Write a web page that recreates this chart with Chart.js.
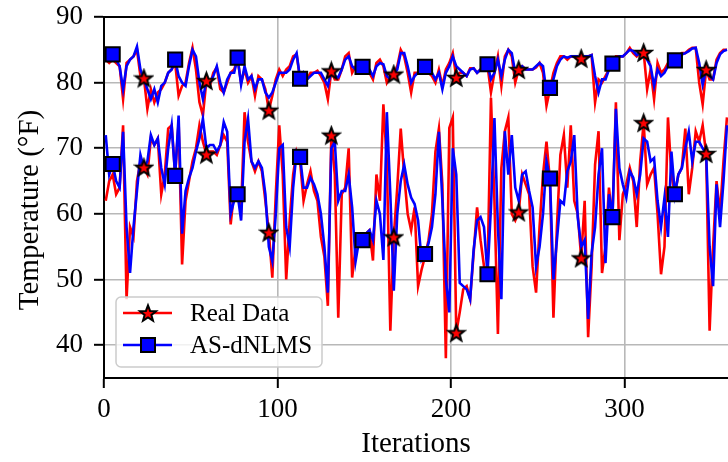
<!DOCTYPE html>
<html>
<head>
<meta charset="utf-8">
<script src="https://cdn.jsdelivr.net/npm/chart.js@4"></script>
<style>
  html, body { margin: 0; padding: 0; background: #fff; overflow: hidden; }
  canvas { display: block; }
</style>
</head>
<body>
<canvas id="chart" width="728" height="462"></canvas>
<script>
// Temperature readings (°F), one value every second iteration (1, 3, 5, ... 359)
const upperReal = [
  83.5,83,83.5,83,82.5,77.5,83,83.5,84,85,
  81,80.7,76,79,77,78.5,79,80,81.5,82,
  83,78,79.5,80,83,85.3,82,77,75,80.3,
  79.5,81.5,82.3,79,78.5,80,81.5,82,83.5,80,
  82,80,81,78,81,80.5,79,75.8,78,80.5,
  82,81,82,82.5,84,84.3,80.5,81,80.5,81.5,
  81.5,81.8,81,80,77.5,81.8,80.5,80.5,82,84,
  84.5,81.5,82.5,83,82.2,82,81.5,80.5,83,83.5,
  82.5,80,81,81.3,82.5,85,84,81.5,78.5,81.5,
  81.5,82,82.2,81.5,81,80,82,79.5,82,83,
  84.5,80.8,81.5,81.5,81,82.2,82.2,81.5,82,82.5,
  82.6,78.5,81.5,84,79.5,84,85,84,80,82,
  82.5,82,82,82,82.3,83,81.5,76.5,79,81.5,
  83,84,84,83.5,84,84,83.5,83.7,84,84,
  84.2,77,80.5,80,81,82,82.7,84,84,84,
  84.5,85.3,84.5,84,84.5,84.6,79,82,77.5,83,
  81.5,82,83,83.5,83.2,84,84.5,84.5,85,85.3,
  85.3,80,76.7,82,80.5,80.5,83.5,84.5,85,85
];
const upperFiltered = [
  84,83.5,84.3,83.5,82.5,79,82.5,83.5,84,85.5,
  82,80.5,79,77.5,79,77,79.5,80,81.5,82,
  83.5,81,80,79.5,82.5,85,84,80,77.5,80.3,
  80,81,82.5,80,78.5,80.5,81.5,81.5,83.8,79.7,
  82.5,80.5,81,79,80.5,80.5,78.5,77.7,78.5,80,
  81.5,81.5,81.5,82,83.5,84.5,80.6,81.5,80.5,81,
  81.5,81.5,81.5,80.5,79.5,81.8,81,80.8,82,83.5,
  84,82.5,82,82.5,82.4,82.5,82,81,82.5,83,
  82.8,81,80.5,81.3,82,84.5,84.5,82.5,80,81,
  81.5,82,82.4,82,81.5,80.5,81.5,79,81.5,82.5,
  84,82.5,82,81.5,81,82,82.2,81.5,82,82.5,
  82.8,80.5,81.5,83.5,81,83.5,85,84.5,81.5,82,
  82.5,82,82,82,82.5,83,82.5,78.5,79.2,80.5,
  82.5,83.5,84,83.8,84,84,84,83.7,84,84,
  84.2,81,78.5,80.5,80.5,82,82.9,83.8,84,84,
  84.5,85,84.8,84.2,84.5,84.6,83.5,82.5,79.5,82,
  81,81.5,82.5,83.5,83.4,83.8,84.3,84.5,84.8,85.2,
  85.3,83,79.7,82,81,80.5,83,84.3,84.8,85
];
const lowerReal = [
  62,65,66,63,64,73.5,47,58,56.5,65,
  68,67.1,66,71.5,70.5,71.5,63,66,73,73.5,
  66,74,52.3,62,65,68,70,73.5,71,69.1,
  69.5,69.5,69,70.5,72,71,58.4,63.5,63,60.5,
  75.5,71,68,66.5,68,66.5,62,57.2,50.3,63,
  73.5,66,50,59,66,69.5,68,62,64.5,66.5,
  63.5,62,56.5,53.5,46,72,66,44.2,63,64,
  70,50.3,55,56,56,57,57.5,52.9,66,62,
  76.7,68,42.2,56.5,64,73,66,60,57.5,61,
  49,51.5,53.5,56,60,69.5,73,64.5,38,73.1,
  74.7,41.9,45,48.5,49,47,54,61,56,52,
  51,77.7,62,41.7,67,72.6,74.7,60,59,60.3,
  66,64.5,63,52,48,58,66,71,65,44.2,
  58,69,72,64,73.5,62,60,53.3,62,41.2,
  52,67.5,72.6,51,55,64,59,77,56,63,
  64.5,67,65,58,68,73.9,64.5,66,67,60,
  50.8,55,74.7,66,63,66,67,73,63,67,
  72.6,71,73.5,69.2,42.2,55,65,60,68,74.7
];
const lowerFiltered = [
  72,66,67.6,65,64,72.5,58,51,58,63.5,
  69,67,68,72,70.5,71.5,67,64.5,70,73.5,
  65.8,75,57,63.5,65.5,67,69.5,71.5,74.5,70,
  70.5,70.5,69.5,70.5,74,72.5,60,62,63,59,
  71,74.5,68,67,68,67,63,55,52.8,60,
  70,70.5,58,55,64,69.5,68.7,64,64,65.5,
  64.5,63,60,55,48,70,71,62,63.5,63.5,
  66,61,52.8,56,56,57,57.5,56,62,60,
  53,75.5,63,48.3,60,65,67.5,64.5,62.5,61.5,
  59,53,53.9,55.5,58,63,72.5,62,50,45,
  70,66,49.5,49,48.5,47,54.5,59,59.5,58,
  50.8,61,74.6,58,47,72.6,66,72,64,62,
  66,66.5,63.5,61,52,55,60,68,65.4,50,
  56,62,61.5,66.5,68,72,59.5,55,56,44,
  54,58,66,70,52.5,63,59.5,76,67,64.5,
  62.5,66.5,65.5,63,66,71.5,71,68,68.5,62,
  58,62.5,56.5,69.5,63,66,67,70,72.5,68,
  71,71,70,69.2,55,49,64.5,58,65,73.5
];
// Iterations that carry a marker
const starIterations = [23,59,95,131,167,203,239,275,311,347];
const squareIterations = [5,41,77,113,149,185,221,257,293,329];
// Axis ticks and text
const xTicks = [0,100,200,300];
const yTicks = [40,50,60,70,80,90];
const seriesNames = ['Real Data','AS-dNLMS'];
const xTitle = 'Iterations';
const yTitle = 'Temperature (°F)';

const RED = '#ff0000';
const BLUE = '#0000ff';
const FONT = '"Liberation Serif", "DejaVu Serif", serif';
const LINE_W = 2.6;

const iterations = upperReal.map((_, i) => 2 * i + 1);
const toPoints = ys => ys.map((y, i) => ({ x: iterations[i], y }));
const pick = (its, ys) => its.map(it => ({ x: it, y: ys[iterations.indexOf(it)] }));

// Filled five-point star with black edge
function drawStar(g, cx, cy, outer) {
  const inner = outer * 0.42;
  g.beginPath();
  for (let k = 0; k < 10; k++) {
    const r = k % 2 === 0 ? outer : inner;
    const a = -Math.PI / 2 + k * Math.PI / 5;
    const px = cx + r * Math.cos(a), py = cy + r * Math.sin(a);
    if (k === 0) g.moveTo(px, py); else g.lineTo(px, py);
  }
  g.closePath();
  g.fillStyle = RED;
  g.fill();
  g.lineWidth = 2;
  g.lineJoin = 'miter';
  g.strokeStyle = '#000';
  g.stroke();
}
function starSprite(outer) {
  const size = Math.ceil(outer * 2 + 4);
  const c = document.createElement('canvas');
  c.width = size; c.height = size;
  drawStar(c.getContext('2d'), size / 2, size / 2 + 0.8, outer);
  return c;
}
const starImg = starSprite(8.5);

function lineSet(label, ys, color) {
  return {
    label, data: toPoints(ys), borderColor: color, backgroundColor: color,
    borderWidth: LINE_W, pointRadius: 0, tension: 0, fill: false
  };
}

const overlay = {
  id: 'overlay',
  afterDraw(chart) {
    const { ctx, chartArea: a } = chart;
    ctx.save();
    // top spine
    ctx.strokeStyle = '#000';
    ctx.lineWidth = 2;
    ctx.beginPath();
    ctx.moveTo(a.left - 1, a.top);
    ctx.lineTo(a.right, a.top);
    ctx.stroke();

    // y-axis title
    ctx.save();
    ctx.font = '29px ' + FONT;
    ctx.fillStyle = '#000';
    ctx.textAlign = 'center';
    ctx.textBaseline = 'middle';
    ctx.translate(30, 210);
    ctx.rotate(-Math.PI / 2);
    ctx.fillText(yTitle, 0, 0);
    ctx.restore();

    // legend
    const bx = 116, by = 297, bw = 206, bh = 70, rr = 5;
    ctx.beginPath();
    ctx.moveTo(bx + rr, by);
    ctx.arcTo(bx + bw, by, bx + bw, by + bh, rr);
    ctx.arcTo(bx + bw, by + bh, bx, by + bh, rr);
    ctx.arcTo(bx, by + bh, bx, by, rr);
    ctx.arcTo(bx, by, bx + bw, by, rr);
    ctx.closePath();
    ctx.fillStyle = 'rgba(255,255,255,0.8)';
    ctx.fill();
    ctx.strokeStyle = '#cccccc';
    ctx.lineWidth = 1.5;
    ctx.stroke();

    const rows = [313, 345];
    const colors = [RED, BLUE];
    rows.forEach((ry, i) => {
      ctx.strokeStyle = colors[i];
      ctx.lineWidth = LINE_W;
      ctx.beginPath();
      ctx.moveTo(123, ry);
      ctx.lineTo(172, ry);
      ctx.stroke();
      if (i === 0) {
        drawStar(ctx, 148, ry + 0.8, 8.5);
      } else {
        ctx.fillStyle = BLUE;
        ctx.fillRect(141, ry - 7, 14, 14);
        ctx.strokeStyle = '#000';
        ctx.lineWidth = 2;
        ctx.strokeRect(141, ry - 7, 14, 14);
      }
      ctx.fillStyle = '#000';
      ctx.font = '25px ' + FONT;
      ctx.textAlign = 'left';
      ctx.textBaseline = 'middle';
      ctx.fillText(seriesNames[i], 190, ry + 1);
    });
    ctx.restore();
  }
};

new Chart(document.getElementById('chart'), {
  type: 'line',
  data: {
    datasets: [
      {
        label: seriesNames[0] + ' markers',
        data: pick(starIterations, upperReal).concat(pick(starIterations, lowerReal)),
        showLine: false, pointStyle: starImg, pointRadius: 8
      },
      {
        label: seriesNames[1] + ' markers',
        data: pick(squareIterations, upperFiltered).concat(pick(squareIterations, lowerFiltered)),
        showLine: false, pointStyle: 'rect', pointRadius: 10,
        pointBackgroundColor: BLUE, pointBorderColor: '#000', pointBorderWidth: 2
      },
      lineSet(seriesNames[1], upperFiltered, BLUE),
      lineSet(seriesNames[1], lowerFiltered, BLUE),
      lineSet(seriesNames[0], upperReal, RED),
      lineSet(seriesNames[0], lowerReal, RED)
    ]
  },
  options: {
    responsive: false,
    animation: false,
    devicePixelRatio: 1,
    layout: { autoPadding: false, padding: { top: 17, right: 0, bottom: 0, left: 0 } },
    plugins: { legend: { display: false }, tooltip: { enabled: false } },
    scales: {
      x: {
        type: 'linear',
        min: 0,
        max: 359.6,
        afterFit: s => { s.height = 84; s.paddingLeft = 0; s.paddingRight = 0; },
        afterBuildTicks: s => { s.ticks = xTicks.map(v => ({ value: v })); },
        grid: { color: '#b8b8b8', lineWidth: 1.6, tickColor: '#000', tickLength: 10, tickWidth: 2 },
        border: { display: true, color: '#000', width: 2 },
        ticks: { color: '#000', font: { family: FONT, size: 27 }, padding: 6, maxRotation: 0 },
        title: { display: true, text: xTitle, color: '#000', font: { family: FONT, size: 29 }, padding: 0 }
      },
      y: {
        min: 35,
        max: 90,
        afterFit: s => { s.width = 104; s.paddingTop = 0; s.paddingBottom = 0; },
        afterBuildTicks: s => { s.ticks = yTicks.map(v => ({ value: v })); },
        grid: { color: '#b8b8b8', lineWidth: 1.6, tickColor: '#000', tickLength: 10, tickWidth: 2 },
        border: { display: true, color: '#000', width: 2 },
        ticks: { color: '#000', font: { family: FONT, size: 27 }, padding: 11 }
      }
    }
  },
  plugins: [overlay]
});
</script>
</body>
</html>
